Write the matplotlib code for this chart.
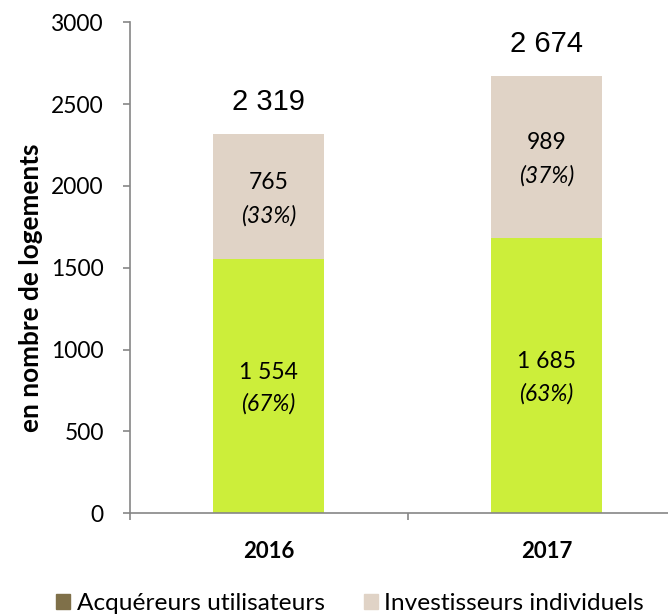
import matplotlib.pyplot as plt
import matplotlib.patches as mpatches
import numpy as np

years = ['2016', '2017']
utilisateurs = [1554, 1685]
investisseurs = [765, 989]
pct_utilisateurs = ['(67%)', '(63%)']
pct_investisseurs = ['(33%)', '(37%)']
series_names = ['Acquéreurs utilisateurs', 'Investisseurs individuels']

green = '#CCEE3A'
beige = '#E0D3C6'
olive = '#7F7049'
grey = '#868686'

plt.rcParams['font.family'] = ['Lato', 'DejaVu Sans']


def fmt(v):
    return f'{v:,}'.replace(',', ' ')


fig = plt.figure(figsize=(6.68, 6.16), dpi=100)
ax = fig.add_axes([129.5/668, 102.7/616, 556/668, 491/616])

x = np.arange(len(years))
totals = [a + b for a, b in zip(utilisateurs, investisseurs)]
ax.bar(x, utilisateurs, width=0.40, color=green)
ax.bar(x, investisseurs, width=0.40, bottom=utilisateurs, color=beige)

for i in range(len(years)):
    mid = utilisateurs[i] / 2
    ax.annotate(fmt(utilisateurs[i]), (x[i], mid), xytext=(0, 10), textcoords='offset points',
                ha='center', va='center', fontsize=16.5)
    ax.annotate(pct_utilisateurs[i], (x[i], mid), xytext=(0, -13), textcoords='offset points',
                ha='center', va='center', fontsize=16.5, style='italic')
    mid = utilisateurs[i] + investisseurs[i] / 2
    ax.annotate(fmt(investisseurs[i]), (x[i], mid), xytext=(0, 10), textcoords='offset points',
                ha='center', va='center', fontsize=16.5)
    ax.annotate(pct_investisseurs[i], (x[i], mid), xytext=(0, -14), textcoords='offset points',
                ha='center', va='center', fontsize=16.5, style='italic')
    ax.annotate(fmt(totals[i]), (x[i], totals[i]), xytext=(0, 23), textcoords='offset points',
                ha='center', va='center', fontsize=21, family='Liberation Sans')

ax.set_xlim(-0.5, 1.5)
ax.set_ylim(0, 3000)
ax.set_yticks(np.arange(0, 3001, 500))
ax.set_xticks(x)
ax.set_xticklabels(years, fontweight='bold')
ax.set_xticks([-0.5, 0.5, 1.5], minor=True)

for s in ['top', 'right']:
    ax.spines[s].set_visible(False)
for s in ['left', 'bottom']:
    ax.spines[s].set_color(grey)
    ax.spines[s].set_linewidth(1.2)

ax.tick_params(axis='y', direction='out', length=5, width=1.2, color=grey, labelsize=16.4, pad=13.5)
ax.tick_params(axis='x', which='major', length=0, labelsize=16, pad=20)
ax.tick_params(axis='x', which='minor', direction='out', length=5, width=1.2, color=grey)

fig.text(31/668, 1 - 288/616, 'en nombre de logements', rotation=90, ha='center', va='center',
         fontsize=18.8, fontweight='bold')

handles = [mpatches.Patch(color=olive), mpatches.Patch(color=beige)]
fig.legend(handles, series_names, loc='center', bbox_to_anchor=(350/668, 12/616), ncol=2,
           frameon=False, fontsize=17.6, handlelength=0.57, handleheight=0.57,
           handletextpad=0.28, columnspacing=1.6, borderpad=0, borderaxespad=0)

fig.savefig('out.png', dpi=100)
